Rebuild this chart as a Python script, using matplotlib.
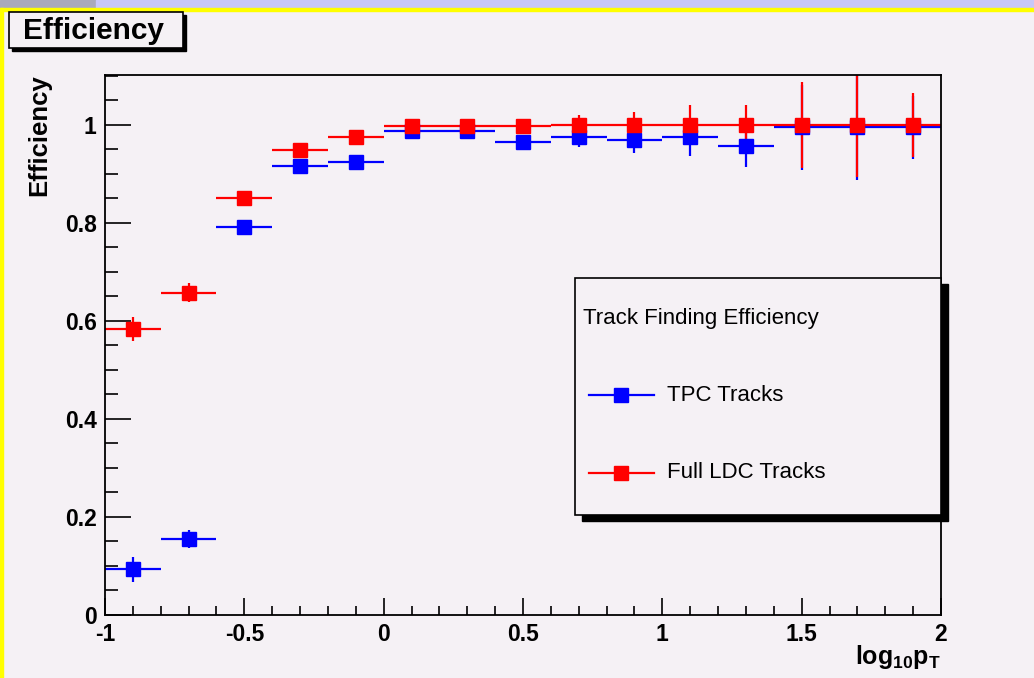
import matplotlib
matplotlib.use("Agg")
import matplotlib.pyplot as plt
from matplotlib.patches import Rectangle
from matplotlib.lines import Line2D
from matplotlib.ticker import MultipleLocator, FuncFormatter

plt.rcParams['font.family'] = ['Liberation Sans', 'DejaVu Sans']
plt.rcParams['mathtext.fontset'] = 'custom'
plt.rcParams['mathtext.bf'] = 'Liberation Sans:bold'
plt.rcParams['mathtext.rm'] = 'Liberation Sans'

# bin centres of log10(pT), bin width 0.2
log_pt = [-0.9, -0.7, -0.5, -0.3, -0.1, 0.1, 0.3, 0.5, 0.7, 0.9, 1.1, 1.3, 1.5, 1.7, 1.9]
bin_half = 0.1

tpc_eff = [0.093, 0.155, 0.791, 0.916, 0.924, 0.988, 0.988, 0.966, 0.975, 0.969, 0.975, 0.958, 0.995, 0.995, 0.995]
tpc_err = [0.025, 0.018, 0.010, 0.008, 0.008, 0.005, 0.005, 0.010, 0.019, 0.027, 0.039, 0.044, 0.087, 0.107, 0.065]

ldc_eff = [0.584, 0.658, 0.850, 0.948, 0.976, 0.997, 0.997, 0.997, 1.000, 1.000, 1.000, 1.000, 1.000, 1.000, 1.000]
ldc_err = [0.025, 0.019, 0.010, 0.006, 0.005, 0.003, 0.003, 0.004, 0.020, 0.027, 0.041, 0.041, 0.087, 0.107, 0.065]

W, H = 1034, 678
bg = '#f5f1f5'


def fx(px):
    return px / W


def fy(py):
    return 1 - py / H


fig = plt.figure(figsize=(W / 100, H / 100), dpi=100, facecolor=bg)

# window decoration strips
fig.patches.append(Rectangle((0, fy(8)), fx(96), 8 / H, transform=fig.transFigure, color='#aaaabb', zorder=0))
fig.patches.append(Rectangle((fx(96), fy(8)), 1, 8 / H, transform=fig.transFigure, color='#c8c8f8', zorder=0))
fig.patches.append(Rectangle((0, fy(11)), 1, 3 / H, transform=fig.transFigure, color='#ffff00', zorder=0))
fig.patches.append(Rectangle((0, 0), fx(3), fy(8), transform=fig.transFigure, color='#ffff00', zorder=0))

ax = fig.add_axes([fx(105), fy(615), fx(941 - 105), (615 - 75) / H])
ax.set_facecolor(bg)

ax.errorbar(log_pt, tpc_eff, xerr=bin_half, yerr=tpc_err, fmt='s', color='#0000ff',
            ms=9.5, mec='#0000ff', elinewidth=1.6, capsize=0)
ax.errorbar(log_pt, ldc_eff, xerr=bin_half, yerr=ldc_err, fmt='s', color='#ff0000',
            ms=9.5, mec='#ff0000', elinewidth=1.6, capsize=0)

ax.set_xlim(-1, 2)
ax.set_ylim(0, 1.102)
ax.xaxis.set_major_locator(MultipleLocator(0.5))
ax.xaxis.set_minor_locator(MultipleLocator(0.1))
ax.yaxis.set_major_locator(MultipleLocator(0.2))
ax.yaxis.set_minor_locator(MultipleLocator(0.05))
fmt = FuncFormatter(lambda v, p: ('%g' % round(v, 2)))
ax.xaxis.set_major_formatter(fmt)
ax.yaxis.set_major_formatter(fmt)

ax.tick_params(axis='y', which='major', direction='in', length=18.5, width=1.2, pad=6,
               labelsize=16.5, right=False)
ax.tick_params(axis='y', which='minor', direction='in', length=9.4, width=1.2, right=False)
ax.tick_params(axis='x', which='major', direction='in', length=12, width=1.2, pad=6,
               labelsize=16.5, top=False)
ax.tick_params(axis='x', which='minor', direction='in', length=6.5, width=1.2, top=False)
for lab in ax.get_xticklabels() + ax.get_yticklabels():
    lab.set_fontweight('bold')
for s in ax.spines.values():
    s.set_linewidth(1.3)

# axis titles
fig.text(fx(39), fy(74), 'Efficiency', rotation=90, ha='center', va='top',
         fontsize=18.5, fontweight='bold')
fig.text(fx(941), fy(657), r'$\mathbf{log_{10}p_{T}}$', ha='right', va='center', fontsize=18)

# title box with shadow
fig.patches.append(Rectangle((fx(12), fy(51)), fx(174), 36 / H, transform=fig.transFigure,
                             color='black', zorder=1))
fig.patches.append(Rectangle((fx(9), fy(48)), fx(174), 36 / H, transform=fig.transFigure,
                             facecolor=bg, edgecolor='black', lw=1.2, zorder=2))
fig.text(fx(23), fy(31), 'Efficiency', ha='left', va='center', fontsize=21.5,
         fontweight='bold', zorder=3)

# legend box with shadow
fig.patches.append(Rectangle((fx(582), fy(521)), fx(366), (515 - 278) / H, transform=fig.transFigure,
                             color='black', zorder=4))
fig.patches.append(Rectangle((fx(575), fy(515)), fx(366), (515 - 278) / H, transform=fig.transFigure,
                             facecolor=bg, edgecolor='black', lw=1.2, zorder=5))
fig.text(fx(583), fy(318), 'Track Finding Efficiency', ha='left', va='center', fontsize=16, zorder=6)
entries = [('TPC Tracks', '#0000ff', 395), ('Full LDC Tracks', '#ff0000', 473)]
for label, col, py in entries:
    fig.lines.append(Line2D([fx(589), fx(654)], [fy(py), fy(py)], transform=fig.transFigure,
                            color=col, lw=1.6, zorder=6))
    fig.lines.append(Line2D([fx(621)], [fy(py)], transform=fig.transFigure, marker='s',
                            color=col, ms=9.5, zorder=7))
    fig.text(fx(667), fy(py), label, ha='left', va='center', fontsize=16, zorder=6)

fig.savefig('out.png', dpi=100, facecolor=bg)
